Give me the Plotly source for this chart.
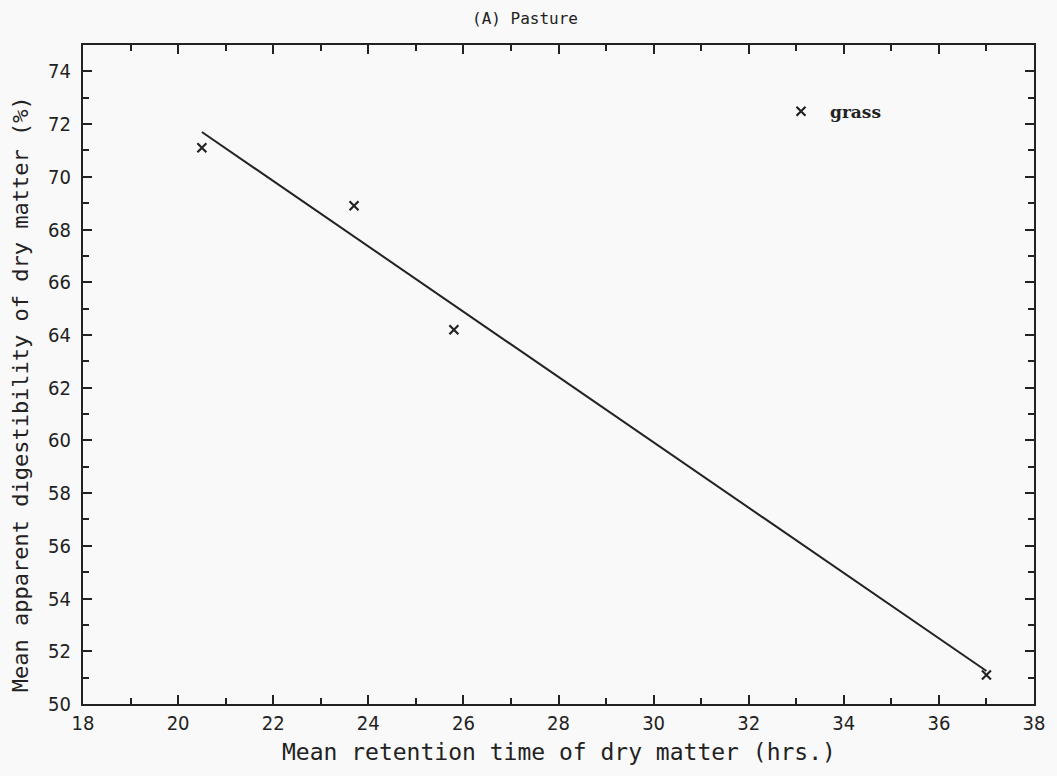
import plotly.graph_objects as go

# Mean retention time (hrs) and apparent digestibility (%) for grass
retention_hrs = [20.5, 23.7, 25.8, 37.0]
digestibility_pct = [71.1, 68.9, 64.2, 51.1]

# Fitted regression line end points
fit_x = [20.5, 37.0]
fit_y = [71.7, 51.25]

x_ticks = list(range(18, 39, 2))
y_ticks = list(range(50, 75, 2))

INK = "#222222"
BG = "#f9f9f9"
TICK_FONT = dict(family="Liberation Sans Narrow, DejaVu Sans Condensed, Arial Narrow, sans-serif",
                 size=20, color=INK)
MONO = "DejaVu Sans Mono, Liberation Mono, monospace"

fig = go.Figure()

fig.add_trace(go.Scatter(
    x=fit_x, y=fit_y, mode="lines",
    line=dict(color=INK, width=2),
    showlegend=False, hoverinfo="skip",
))

fig.add_trace(go.Scatter(
    x=retention_hrs, y=digestibility_pct, mode="markers",
    name="grass",
    marker=dict(symbol="x-thin-open", size=9, line=dict(color=INK, width=2.2), color=INK),
))

axis_common = dict(
    showline=True, linecolor=INK, linewidth=2, mirror="ticks",
    ticks="inside", ticklen=9, tickwidth=1.5, tickcolor=INK,
    showgrid=False, zeroline=False, tickfont=TICK_FONT,
)

fig.update_xaxes(
    range=[18, 38], tickvals=x_ticks, ticktext=[str(v) for v in x_ticks],
    minor=dict(dtick=1, ticks="inside", ticklen=6, tickwidth=1.5, tickcolor=INK, showgrid=False),
    **axis_common,
)
fig.update_yaxes(
    range=[50, 75], tickvals=y_ticks, ticktext=[str(v) for v in y_ticks],
    minor=dict(dtick=1, ticks="inside", ticklen=6, tickwidth=1.5, tickcolor=INK, showgrid=False),
    ticklabelstandoff=6,
    **axis_common,
)

fig.update_layout(
    width=1057, height=776,
    margin=dict(l=83, r=21, t=45, b=72),
    paper_bgcolor=BG, plot_bgcolor=BG,
    showlegend=True,
    legend=dict(
        x=0.7245, y=0.926, xanchor="left", yanchor="top",
        itemwidth=48,
        bgcolor="rgba(0,0,0,0)",
        font=dict(family="DejaVu Serif, Liberation Serif, serif", size=17, color=INK, weight="bold"),
    ),
    annotations=[
        dict(text="(A) Pasture", xref="paper", yref="paper", x=0.465, y=1.0, yshift=27,
             xanchor="center", yanchor="middle", showarrow=False,
             font=dict(family=MONO, size=16, color=INK)),
        dict(text="Mean retention time of dry matter (hrs.)", xref="paper", yref="paper",
             x=0.5, y=0, yshift=-48, xanchor="center", yanchor="middle", showarrow=False,
             font=dict(family=MONO, size=23, color=INK)),
        dict(text="Mean apparent digestibility of dry matter (%)", xref="paper", yref="paper",
             x=0, xshift=-63, y=0.47, xanchor="center", yanchor="middle", textangle=-90,
             showarrow=False, font=dict(family=MONO, size=22, color=INK)),
    ],
)

fig.write_html("out.html")
